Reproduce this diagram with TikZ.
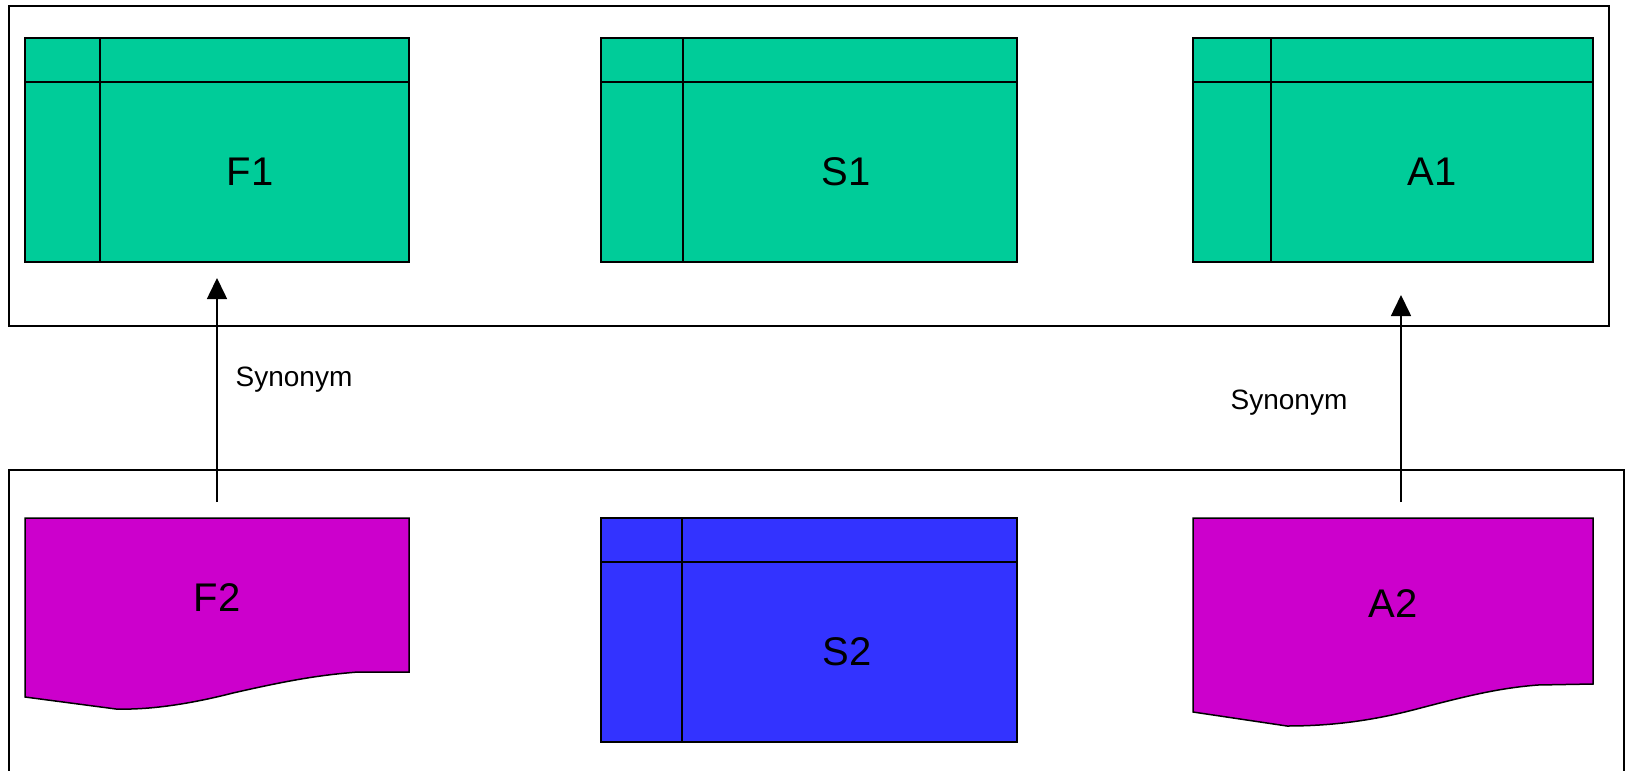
\documentclass[tikz,border=0pt]{standalone}
\usepackage{fontspec}
\setmainfont{Liberation Sans}
\usetikzlibrary{arrows.meta}
\definecolor{tgreen}{RGB}{0,204,153}
\definecolor{docmag}{RGB}{204,0,204}
\definecolor{tblue}{RGB}{51,51,255}
\begin{document}
\begin{tikzpicture}[x=1pt,y=-1pt,
  frame/.style={draw=black,line width=2pt},
  tbl/.style={draw=black,line width=1.8pt},
  docshape/.style={draw=black,line width=1.5pt,fill=docmag},
  lbl/.style={font=\fontsize{40}{46}\selectfont,inner sep=0pt},
  synlbl/.style={font=\fontsize{28}{34}\selectfont,inner sep=0pt},
  syn/.style={line width=1.6pt,-{Triangle[width=20pt,length=21pt]}}]
\useasboundingbox (0,0) rectangle (1625,771);
\clip (0,0) rectangle (1625,771);
% containers
\draw[frame] (9,6) rectangle (1609,326);
\draw[frame] (9,790) -- (9,470) -- (1624,470) -- (1624,790);
% F1 table
\filldraw[tbl,fill=tgreen] (25,38) rectangle (409,262);
\draw[tbl] (25,82) -- (409,82) (100,38) -- (100,262);
\node[lbl] (F1) at (250,172) {F1};
% S1 table
\filldraw[tbl,fill=tgreen] (601,38) rectangle (1017,262);
\draw[tbl] (601,82) -- (1017,82) (683,38) -- (683,262);
\node[lbl] (S1) at (846,172) {S1};
% A1 table
\filldraw[tbl,fill=tgreen] (1193,38) rectangle (1593,262);
\draw[tbl] (1193,82) -- (1593,82) (1271,38) -- (1271,262);
\node[lbl] (A1) at (1432,172) {A1};
% S2 table
\filldraw[tbl,fill=tblue] (601,518) rectangle (1017,742);
\draw[tbl] (601,562) -- (1017,562) (682,518) -- (682,742);
\node[lbl] (S2) at (847,652) {S2};
% F2 document
\path[docshape] (25,518) -- (409,518) -- (409,672) -- (358,672)
  .. controls (320,675) and (290,680) .. (233,693)
  .. controls (190,704) and (150,710) .. (116,709) -- (25,697) -- cycle;
\node[lbl] (F2) at (217,598) {F2};
% A2 document
\path[docshape] (1193,518) -- (1593,518) -- (1593,684) -- (1538,685)
  .. controls (1500,688) and (1470,695) .. (1413,710)
  .. controls (1370,721) and (1330,726) .. (1287,726) -- (1193,712) -- cycle;
\node[lbl] (A2) at (1393,604) {A2};
% synonym connectors
\coordinate (fs) at (217,502);
\coordinate (fe) at (217,278);
\coordinate (as) at (1401,502);
\coordinate (ae) at (1401,295);
\draw[syn] (fs) -- (fe);
\draw[syn] (as) -- (ae);
\node[synlbl] (synF) at (294,380) {Synonym};
\node[synlbl] (synA) at (1289,403) {Synonym};
\end{tikzpicture}
\end{document}
